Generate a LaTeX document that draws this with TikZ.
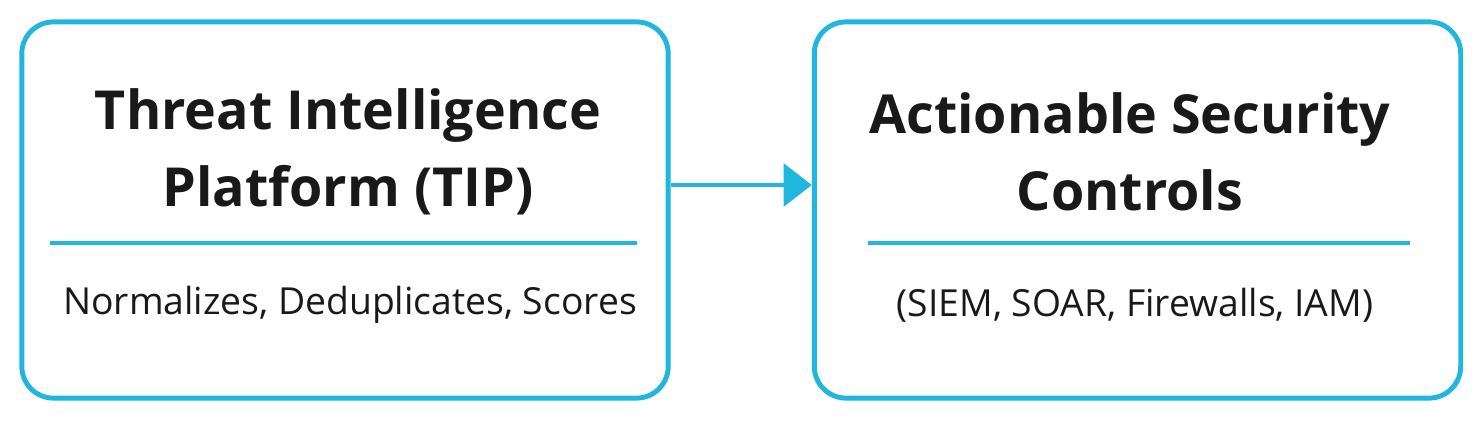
\documentclass[tikz,border=0pt]{standalone}
\usepackage{fontspec}
\setmainfont{Open Sans}
\usetikzlibrary{arrows.meta}
\definecolor{tipcyan}{RGB}{32,182,222}
\tikzset{
  panel/.style={draw=tipcyan, line width=1.4pt, rounded corners=9pt, minimum width=6.46cm, minimum height=3.76cm},
  title/.style={font=\fontsize{15.3}{22}\selectfont\bfseries, align=center, text=black!90},
  sub/.style={font=\fontsize{10.6}{14}\selectfont, text=black!90},
  divider/.style={draw=tipcyan, line width=0.9pt}
}
\begin{document}
\begin{tikzpicture}[x=0.01cm,y=0.01cm]
\useasboundingbox (0,0) rectangle (1483,420);
\node[panel] (tip) at (345,210) {};
\node[panel] (asc) at (1137.5,210) {};

\node[title] (tiptitle) at (348,268) {Threat Intelligence\\Platform (TIP)};
\node[title] (asctitle) at (1130,268) {Actionable Security\\Controls};

\coordinate (tipl) at (50,177);
\coordinate (tipr) at (637,177);
\coordinate (ascl) at (868,177);
\coordinate (ascr) at (1410,177);
\draw[divider] (tipl) -- (tipr);
\draw[divider] (ascl) -- (ascr);

\node[sub] (tipsub) at (350,115) {Normalizes, Deduplicates, Scores};
\node[sub] (ascsub) at (1135,115) {(SIEM, SOAR, Firewalls, IAM)};

\draw[tipcyan, line width=1.4pt, -{Triangle[length=8pt,width=12pt]}] (tip.east |- 0,235) -- (asc.west |- 0,235);
\end{tikzpicture}
\end{document}
